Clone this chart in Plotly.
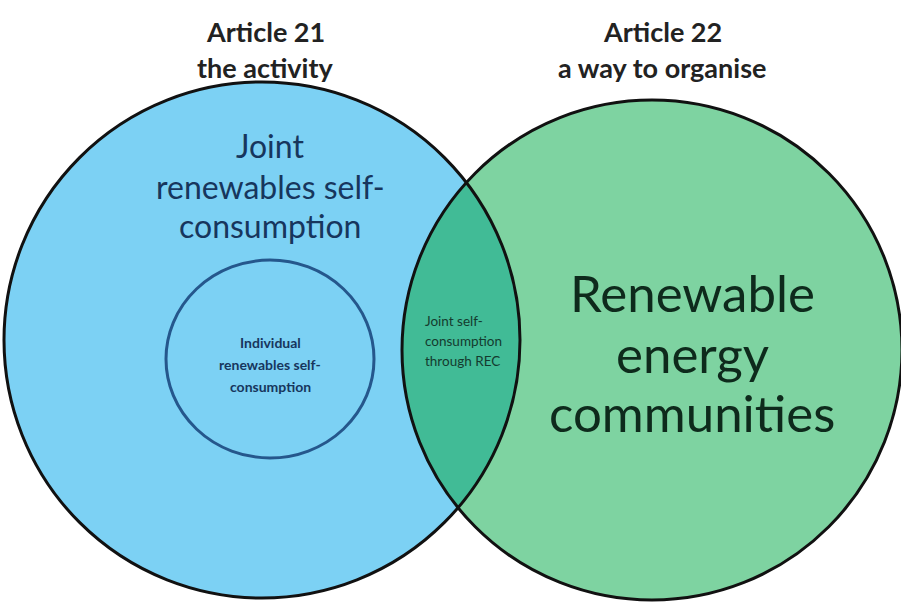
import numpy as np
import plotly.graph_objects as go

# Diagram geometry (pixel space of the picture)
circle_cx = [262, 652]
circle_cy = [340, 350]
circle_r = [258, 250]
circle_fill = ["#7CD1F4", "#7ED3A1"]
lens_fill = "#41BB96"
inner_box = [166, 260, 374, 458]  # x0, y0, x1, y1

# Text blocks: (lines, x, y-centres, size, colour, bold, anchor)
header_left = ["Article 21", "the activity"]
header_right = ["Article 22", "a way to organise"]
joint_lines = ["Joint", "renewables self-", "consumption"]
rec_lines = ["Renewable", "energy", "communities"]
indiv_lines = ["Individual", "renewables self-", "consumption"]
lens_lines = ["Joint self-", "consumption", "through REC"]

W, H = 901, 604
fig = go.Figure()

shapes = []
for i in range(2):
    shapes.append(dict(type="circle", xref="x", yref="y",
                       x0=circle_cx[i] - circle_r[i], x1=circle_cx[i] + circle_r[i],
                       y0=circle_cy[i] - circle_r[i], y1=circle_cy[i] + circle_r[i],
                       fillcolor=circle_fill[i], line=dict(width=0), layer="below"))

# lens (intersection)
(cx1, cx2), (cy1, cy2), (r1, r2) = circle_cx, circle_cy, circle_r
t = np.linspace(0, 2 * np.pi, 2000)
p1 = np.c_[cx1 + r1 * np.cos(t), cy1 + r1 * np.sin(t)]
p2 = np.c_[cx2 + r2 * np.cos(t), cy2 + r2 * np.sin(t)]
in1 = p1[(p1[:, 0] - cx2) ** 2 + (p1[:, 1] - cy2) ** 2 <= r2 ** 2]
in2 = p2[(p2[:, 0] - cx1) ** 2 + (p2[:, 1] - cy1) ** 2 <= r1 ** 2]
pts = np.vstack([in1, in2])
ctr = pts.mean(axis=0)
ang = np.arctan2(pts[:, 1] - ctr[1], pts[:, 0] - ctr[0])
pts = pts[np.argsort(ang)]
lens_path = "M " + " L ".join(f"{x:.2f},{y:.2f}" for x, y in pts) + " Z"
shapes.append(dict(type="path", xref="x", yref="y", path=lens_path,
                   fillcolor=lens_fill, line=dict(width=0), layer="below"))

for i in range(2):
    shapes.append(dict(type="circle", xref="x", yref="y",
                       x0=circle_cx[i] - circle_r[i], x1=circle_cx[i] + circle_r[i],
                       y0=circle_cy[i] - circle_r[i], y1=circle_cy[i] + circle_r[i],
                       fillcolor="rgba(0,0,0,0)", line=dict(color="#111111", width=3), layer="below"))

shapes.append(dict(type="circle", xref="x", yref="y",
                   x0=inner_box[0], y0=inner_box[1], x1=inner_box[2], y1=inner_box[3],
                   fillcolor="rgba(0,0,0,0)", line=dict(color="#25578C", width=3), layer="below"))

font = "Lato, 'Open Sans', sans-serif"
ann = []

def block(lines, x, ys, size, color, bold=False, xanchor="center"):
    for ln, y in zip(lines, ys):
        txt = f"<b>{ln}</b>" if bold else ln
        ann.append(dict(x=x, y=y, text=txt, showarrow=False, xanchor=xanchor, yanchor="middle",
                        font=dict(family=font, size=size, color=color)))

block(header_left, 265, [31, 67], 27, "#222222", bold=True)
block(header_right, 662, [31, 67], 27, "#222222", bold=True)
block(joint_lines, 270, [145, 186, 225], 32, "#17365D")
block(rec_lines, 692, [292, 353, 412], 51, "#0E2A1C")
block(indiv_lines, 270, [342, 364, 386], 14, "#17365D", bold=True)
block(lens_lines, 423, [321, 341, 361], 13.5, "#143A2E", xanchor="left")

fig.update_layout(width=W, height=H, margin=dict(l=0, r=0, t=0, b=0),
                  paper_bgcolor="white", plot_bgcolor="white",
                  xaxis=dict(range=[0, W], visible=False, fixedrange=True),
                  yaxis=dict(range=[H, 0], visible=False, fixedrange=True),
                  shapes=shapes, annotations=ann, showlegend=False)
fig.write_html("out.html", config={"displayModeBar": False},
               post_script="document.body.style.margin='0px';")
